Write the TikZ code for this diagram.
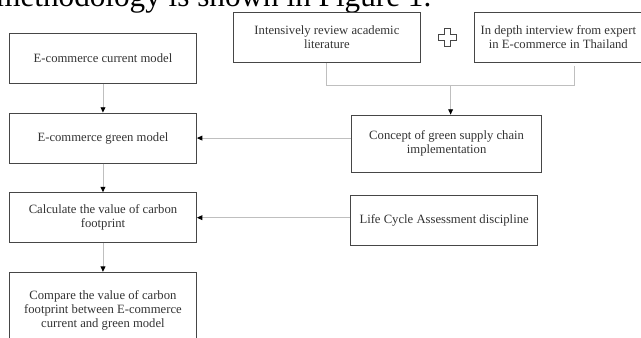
\documentclass[tikz,border=0pt]{standalone}
\usepackage{fontspec}
\setmainfont{Liberation Serif}
\usepackage{tikz}
\usetikzlibrary{arrows.meta, positioning, calc}

\begin{document}
\begin{tikzpicture}[
    node distance=21.5pt and 27pt,
    % === STYLES ===
    stepbox/.style={
        rectangle,
        draw=gray!55!black,
        line width=0.7pt,
        fill=white,
        text=black!80,
        text centered,
        minimum width=140.25pt,
        minimum height=37.5pt,
        font=\fontsize{9.5}{10.5}\selectfont,
        align=center
    },
    arrow/.style={
        -{Triangle[color=black, length=4pt, width=3.6pt]},
        line width=0.7pt,
        color=gray!50
    },
    joinline/.style={
        line width=0.7pt,
        color=gray!50
    },
    headline/.style={
        font=\fontsize{23.4}{26}\selectfont,
        text=black,
        inner sep=0pt
    }
]

\useasboundingbox (0,0) rectangle (480.75pt,-252.75pt);

% === TEXT ABOVE THE FIGURE ===
\node[headline, anchor=base west] (heading) at (-3pt,-5pt) {methodology is shown in Figure 1.};

% === LEFT COLUMN: MODEL STEPS ===

% Current model
\node[stepbox, anchor=north west] (current) at (6.75pt,-24.75pt) {E-commerce current model};

% Green model
\node[stepbox, below=of current] (green) {E-commerce green model};

% Carbon footprint
\node[stepbox, below=of green] (footprint) {Calculate the value of carbon\\footprint};

% Comparison
\node[stepbox, below=of footprint, minimum height=57pt] (compare) {Compare the value of carbon\\footprint between E-commerce\\current and green model};

% === RIGHT COLUMN: INPUTS ===

% Literature review
\node[stepbox, right=of current, yshift=15.75pt] (review) {Intensively review academic\\literature};

% Expert interview
\node[stepbox, right=39.75pt of review, minimum width=126pt] (interview) {In depth interview from expert\\in E-commerce in Thailand};

% Plus sign between the two sources
\coordinate (plus) at ($(review.east)!0.5!(interview.west)$);
\draw[draw=gray!55!black, line width=0.7pt, fill=white]
    (plus) ++(-2.5pt,7pt) -- ++(5pt,0) -- ++(0,-4.5pt) -- ++(4.5pt,0)
    -- ++(0,-5pt) -- ++(-4.5pt,0) -- ++(0,-4.5pt) -- ++(-5pt,0)
    -- ++(0,4.5pt) -- ++(-4.5pt,0) -- ++(0,5pt) -- ++(4.5pt,0) -- cycle;

% Joining point below both sources
\coordinate (drop) at ($(interview.south) + (12pt,-2.5pt)$);
\coordinate (join) at ($(review.south)!0.5!(drop) + (0,-15.75pt)$);

% Green supply chain concept
\node[stepbox, below=21.75pt of join, xshift=-3pt, minimum width=142.5pt, minimum height=42.75pt] (concept) {Concept of green supply chain\\implementation};

% Life cycle assessment
\node[stepbox, below right=16.5pt and -0.75pt of concept.south west, anchor=north west] (lca) {Life Cycle Assessment discipline};

% === CONNECTIONS ===

% Down the left column
\draw[arrow] (current) -- (green);
\draw[arrow] (green) -- (footprint);
\draw[arrow] (footprint) -- (compare);

% Sources merge into the concept
\draw[joinline] (review.south) |- (join) -| (drop);
\draw[arrow] (join) -- (join |- concept.north);

% Inputs to the left column
\draw[arrow] (concept.west |- green.east) -- (green.east);
\draw[arrow] (lca.west |- footprint.east) -- (footprint.east);

\end{tikzpicture}
\end{document}
